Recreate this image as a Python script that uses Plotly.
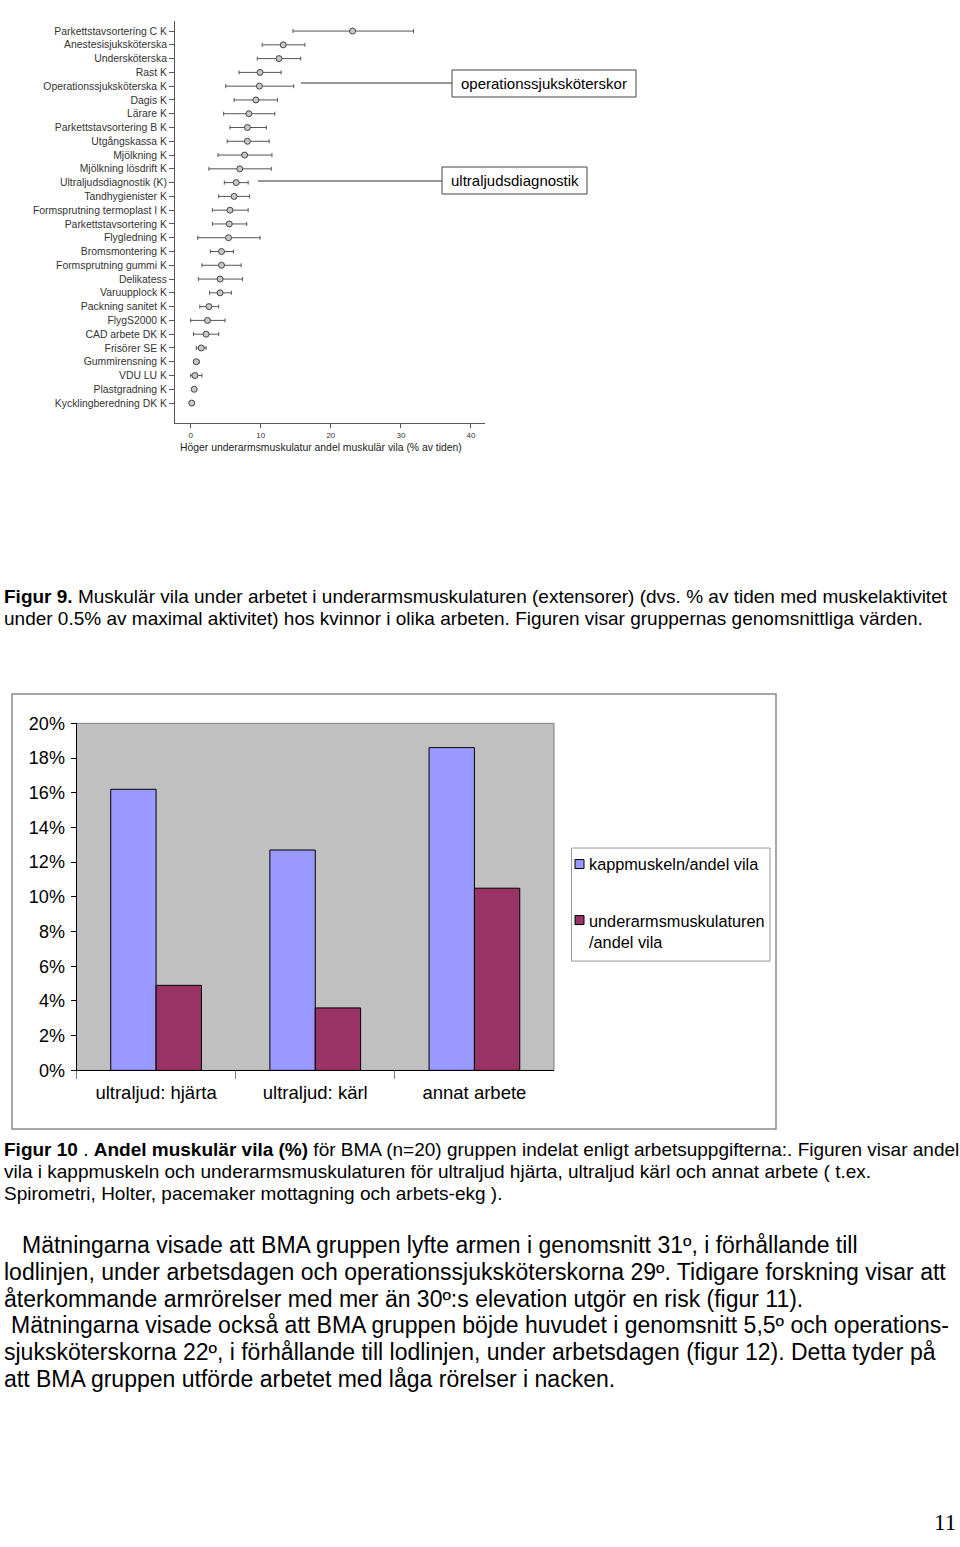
import plotly.graph_objects as go

W, H = 960, 1547
FONT = "Liberation Sans, Arial, sans-serif"

# ---------------- data: Figur 9 ----------------
jobs = ["Parkettstavsortering C K", "Anestesisjuksköterska", "Undersköterska", "Rast K",
        "Operationssjuksköterska K", "Dagis K", "Lärare K", "Parkettstavsortering B K",
        "Utgångskassa K", "Mjölkning K", "Mjölkning lösdrift K", "Ultraljudsdiagnostik (K)",
        "Tandhygienister K", "Formsprutning termoplast I K", "Parkettstavsortering K",
        "Flygledning K", "Bromsmontering K", "Formsprutning gummi K", "Delikatess",
        "Varuupplock K", "Packning sanitet K", "FlygS2000 K", "CAD arbete DK K",
        "Frisörer SE K", "Gummirensning K", "VDU LU K", "Plastgradning K",
        "Kycklingberedning DK K"]
means = [23.1, 13.2, 12.6, 9.9, 9.8, 9.3, 8.3, 8.1, 8.1, 7.7, 7.0, 6.5, 6.2, 5.6, 5.5,
         5.4, 4.4, 4.4, 4.2, 4.2, 2.6, 2.4, 2.2, 1.5, 0.8, 0.6, 0.5, 0.15]
lows = [14.6, 10.2, 9.5, 6.9, 5.0, 6.2, 4.7, 5.6, 5.2, 3.9, 2.6, 4.8, 4.0, 3.1, 3.1,
        1.0, 2.8, 1.6, 1.1, 2.7, 1.3, 0.0, 0.4, 0.8, 0.4, 0.0, 0.3, 0.05]
highs = [31.8, 16.3, 15.7, 12.9, 14.7, 12.4, 12.0, 10.8, 11.2, 11.6, 11.5, 8.2, 8.4, 8.2,
         8.0, 9.9, 6.1, 7.2, 7.4, 5.8, 4.0, 4.9, 4.0, 2.2, 1.2, 1.6, 0.7, 0.3]
x_ticks9 = [0, 10, 20, 30, 40]
x_title9 = "Höger underarmsmuskulatur andel muskulär vila (% av tiden)"
callouts = ["operationssjuksköterskor", "ultraljudsdiagnostik"]

# ---------------- data: Figur 10 ----------------
groups = ["ultraljud: hjärta", "ultraljud: kärl", "annat arbete"]
series_names = ["kappmuskeln/andel vila", "underarmsmuskulaturen<br>/andel vila"]
kapp = [0.162, 0.127, 0.186]
underarm = [0.049, 0.036, 0.105]
series_colors = ["#9999FF", "#993366"]


def px(x):
    return x / W


def py(y):
    # page position -> paper fraction (small correction for the capture's vertical placement)
    ys = (y - 9) / 0.987
    return 1 - ys / H


fig = go.Figure()

# ---- Figur 9: mean + error bars ----
fig.add_trace(go.Scatter(
    x=means, y=jobs, mode="markers",
    marker=dict(symbol="circle", size=6, color="#c8c8c8", line=dict(color="#444", width=1)),
    error_x=dict(type="data", symmetric=False,
                 array=[h - m for h, m in zip(highs, means)],
                 arrayminus=[m - l for m, l in zip(means, lows)],
                 color="#555", thickness=1, width=2),
    xaxis="x", yaxis="y", showlegend=False, hoverinfo="skip"))

# ---- Figur 10: grouped bars ----
for name, vals, col in zip(series_names, [kapp, underarm], series_colors):
    fig.add_trace(go.Bar(x=groups, y=vals, name=name, marker=dict(color=col, line=dict(color="black", width=1)),
                         xaxis="x2", yaxis="y2", showlegend=False, hoverinfo="skip"))

shapes = []
annotations = []

# Figur 9 x-axis title
annotations.append(dict(text=x_title9, xref="paper", yref="paper", x=px(321), y=py(446), xanchor="center",
                        yanchor="middle", showarrow=False, font=dict(family=FONT, size=10.4, color="#222")))

# Figur 9 callouts
call_specs = [  # (line x0, line y, box x0, box x1, box y0, box y1)
    (301, 82, 452, 636, 69, 96),
    (258, 180, 442, 587, 166, 193),
]
for text, (lx, ly, bx0, bx1, by0, by1) in zip(callouts, call_specs):
    shapes.append(dict(type="line", xref="paper", yref="paper", x0=px(lx), x1=px(bx0), y0=py(ly), y1=py(ly),
                       line=dict(color="#333", width=1)))
    shapes.append(dict(type="rect", xref="paper", yref="paper", x0=px(bx0), x1=px(bx1), y0=py(by1), y1=py(by0),
                       line=dict(color="#444", width=1), fillcolor="white"))
    annotations.append(dict(text=text, xref="paper", yref="paper", x=px((bx0 + bx1) / 2), y=py((by0 + by1) / 2),
                            xanchor="center", yanchor="middle", showarrow=False,
                            font=dict(family=FONT, size=15, color="black")))

# Figur 10 plot area background and chart frame
shapes.append(dict(type="rect", xref="x2 domain", yref="y2 domain", x0=0, x1=1, y0=0, y1=1,
                   fillcolor="#C0C0C0", line=dict(color="#808080", width=1), layer="below"))
shapes.append(dict(type="rect", xref="paper", yref="paper", x0=px(12), x1=px(776), y0=py(1128), y1=py(693),
                   line=dict(color="#8a8a8a", width=1.5), fillcolor="rgba(0,0,0,0)"))

# Figur 10 legend (box, swatches, labels)
shapes.append(dict(type="rect", xref="paper", yref="paper", x0=px(571.5), x1=px(770), y0=py(960), y1=py(847),
                   line=dict(color="#999", width=1), fillcolor="white"))
legend_rows = [(863, 863), (919, 930)]
for name, col, (sy, ty) in zip(series_names, series_colors, legend_rows):
    shapes.append(dict(type="rect", xref="paper", yref="paper", x0=px(575), x1=px(584), y0=py(sy + 4.5),
                       y1=py(sy - 4.5), fillcolor=col, line=dict(color="black", width=1)))
    annotations.append(dict(text=name, xref="paper", yref="paper", x=px(587), y=py(ty), xanchor="left",
                            yanchor="middle", align="left", showarrow=False,
                            font=dict(family=FONT, size=16.3, color="black")))

# body text
CAP, PAR = 19, 23.0
text_lines = [
    (2, 595, CAP, "<b>Figur 9.</b> Muskulär vila under arbetet i underarmsmuskulaturen (extensorer) (dvs. % av tiden med muskelaktivitet"),
    (2, 617, CAP, "under 0.5% av maximal aktivitet) hos kvinnor i olika arbeten. Figuren visar gruppernas genomsnittliga värden."),
    (2, 1148, CAP, "<b>Figur 10</b> . <b>Andel muskulär vila (%)</b> för BMA (n=20) gruppen indelat enligt arbetsuppgifterna:. Figuren visar andel"),
    (2, 1170, CAP, "vila i kappmuskeln och underarmsmuskulaturen för ultraljud hjärta, ultraljud kärl och annat arbete ( t.ex."),
    (2, 1192, CAP, "Spirometri, Holter, pacemaker mottagning och arbets-ekg )."),
    (20, 1244, PAR, "Mätningarna visade att BMA gruppen lyfte armen i genomsnitt 31º, i förhållande till"),
    (2, 1271, PAR, "lodlinjen, under arbetsdagen och operationssjuksköterskorna 29º. Tidigare forskning visar att"),
    (2, 1298, PAR, "återkommande armrörelser med mer än 30º:s elevation utgör en risk (figur 11)."),
    (9, 1324, PAR, "Mätningarna visade också att BMA gruppen böjde huvudet i genomsnitt 5,5º och operations-"),
    (2, 1351, PAR, "sjuksköterskorna 22º, i förhållande till lodlinjen, under arbetsdagen (figur 12). Detta tyder på"),
    (2, 1378, PAR, "att BMA gruppen utförde arbetet med låga rörelser i nacken."),
]
for x, y, s, t in text_lines:
    annotations.append(dict(text=t, xref="paper", yref="paper", x=px(x), y=py(y), xanchor="left",
                            yanchor="middle", showarrow=False, font=dict(family=FONT, size=s, color="black")))
annotations.append(dict(text="11", xref="paper", yref="paper", x=px(958), y=0.0, xanchor="right",
                        yanchor="bottom", showarrow=False,
                        font=dict(family="Liberation Serif, serif", size=23, color="black")))

fig.update_layout(
    width=W, height=H, autosize=False,
    margin=dict(l=0, r=0, t=0, b=0),
    paper_bgcolor="white", plot_bgcolor="rgba(0,0,0,0)",
    font=dict(family=FONT, color="black"),
    xaxis=dict(domain=[px(175), px(485)], anchor="y", range=[-2.24, 42.0], tickvals=x_ticks9,
               showgrid=False, zeroline=False, showline=True, linecolor="#555", linewidth=1,
               ticks="outside", ticklen=4, tickcolor="#555", tickfont=dict(size=8, color="#333")),
    yaxis=dict(domain=[py(422), py(20)], anchor="x", type="category", range=[28.45, -0.73],
               showgrid=False, zeroline=False, showline=True, linecolor="#555", linewidth=1,
               ticks="outside", ticklen=5, tickcolor="#555", tickfont=dict(size=10.4, color="#333")),
    xaxis2=dict(domain=[px(76.5), px(554)], anchor="y2", type="category", showgrid=False, zeroline=False,
                showline=True, linecolor="black", linewidth=1, ticks="outside", tickson="boundaries",
                ticklen=8, tickcolor="#808080", tickfont=dict(size=18.5, color="black"), ticklabelstandoff=5),
    yaxis2=dict(domain=[py(1069.3), py(722.3)], anchor="x2", range=[0, 0.20], dtick=0.02, tickformat=".0%",
                showgrid=False, zeroline=False, showline=True, linecolor="black", linewidth=1,
                ticks="outside", ticklen=5, tickcolor="black", tickfont=dict(size=18, color="black"),
                ticklabelstandoff=2),
    barmode="group", bargap=0.43, bargroupgap=0,
    shapes=shapes, annotations=annotations,
)

fig.write_html("out.html", config={"displayModeBar": False},
               post_script="document.body.style.margin='0';document.body.style.overflow='hidden';")
